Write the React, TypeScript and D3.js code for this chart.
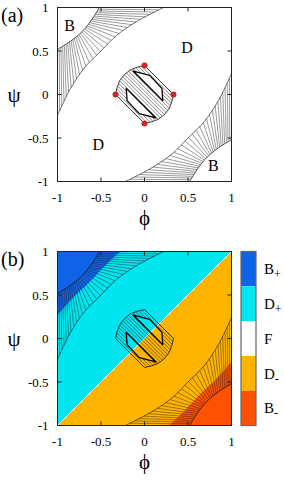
import * as d3 from "d3";
import { useEffect, useRef } from "react";

const W = 284;
const H = 486;
const FONT = "'Liberation Serif', 'Times New Roman', serif";

// axes
const axisTicks = [-1, -0.5, 0, 0.5, 1];
const axisTickLabels = ["-1", "-0.5", "0", "0.5", "1"];

// coexistence bands in the corners, (phi, psi)
const innerArcTL = [[-1, 0.52], [-0.9, 0.58], [-0.8, 0.65], [-0.72, 0.72], [-0.65, 0.8], [-0.58, 0.9], [-0.52, 1]];
const outerArcTL = [[-1, -0.24], [-0.85, 0.07], [-0.68, 0.32], [-0.5, 0.5], [-0.32, 0.68], [-0.07, 0.85], [0.22, 1]];
const innerArcBR = [[1, -0.52], [0.9, -0.58], [0.8, -0.65], [0.72, -0.72], [0.65, -0.8], [0.58, -0.9], [0.52, -1]];
const outerArcBR = [[1, 0.24], [0.85, -0.07], [0.68, -0.32], [0.5, -0.5], [0.32, -0.68], [0.07, -0.85], [-0.22, -1]];

// B+/B- colour edges of panel (b)
const bPlusEdge = [[-1, 0.27], [-0.83, 0.46], [-0.64, 0.64], [-0.46, 0.83], [-0.28, 1]];
const bMinusEdge = [[0.28, -1], [0.46, -0.83], [0.64, -0.64], [0.83, -0.46], [1, -0.27]];

// central region
const coreOutline = [
	[-0.333, 0], [-0.315, 0.08], [-0.285, 0.16], [-0.23, 0.23], [-0.16, 0.285], [-0.08, 0.315], [0, 0.333],
	[0.333, 0], [0.315, -0.08], [0.285, -0.16], [0.23, -0.23], [0.16, -0.285], [0.08, -0.315], [0, -0.333]
];
const eyeUpper = [[-0.13, 0.27], [0.06, 0.22], [0.2, 0.07], [0.21, -0.07]];
const eyeLower = [[0.13, -0.27], [-0.06, -0.22], [-0.2, -0.07], [-0.21, 0.07]];
const criticalPoints = [[0, 0.333], [0.333, 0], [0, -0.333], [-0.333, 0]];

// region labels of panel (a)
const regionNames = ["B", "D", "D", "B"];
const regionPhi = [-0.86, 0.49, -0.53, 0.79];
const regionPsi = [0.8, 0.54, -0.57, -0.82];

// colour key of panel (b)
const phaseNames = ["B", "D", "F", "D", "B"];
const phaseSubs = ["+", "+", "", "-", "-"];
const phaseColors = ["#0f63e6", "#00e6f0", "#ffffff", "#ffb400", "#ff5200"];

function drawPanel(svg, name, top, colored) {
	const left = 57.5;
	const size = 174;
	const x = d3.scaleLinear().domain([-1, 1]).range([left, left + size]);
	const y = d3.scaleLinear().domain([-1, 1]).range([top + size, top]);

	const line = d3.line().x((d) => x(d[0])).y((d) => y(d[1]));
	const curve = d3
		.line()
		.x((d) => x(d[0]))
		.y((d) => y(d[1]))
		.curve(d3.curveCatmullRom.alpha(0.5));

	const g = svg.append("g");
	const defs = g.append("defs");
	defs.append("clipPath")
		.attr("id", "box-" + name)
		.append("rect")
		.attr("x", left)
		.attr("y", top)
		.attr("width", size)
		.attr("height", size);

	const mask = defs
		.append("mask")
		.attr("id", "core-" + name)
		.attr("maskUnits", "userSpaceOnUse")
		.attr("x", 0)
		.attr("y", 0)
		.attr("width", W)
		.attr("height", H);
	mask.append("path").attr("d", line(coreOutline) + "Z").attr("fill", "#fff");
	[eyeUpper, eyeLower].forEach((e) => {
		mask.append("path").attr("d", line(e) + "Z").attr("fill", "#000");
	});

	const plot = g.append("g").attr("clip-path", "url(#box-" + name + ")");

	if (colored) {
		plot.append("path").attr("d", line([[-1, -1], [-1, 1], [1, 1]]) + "Z").attr("fill", phaseColors[1]);
		plot.append("path").attr("d", line([[-1, -1], [1, -1], [1, 1]]) + "Z").attr("fill", phaseColors[3]);
		plot.append("path")
			.attr("d", curve(bPlusEdge) + "L" + x(-1) + "," + y(1) + "Z")
			.attr("fill", phaseColors[0]);
		plot.append("path")
			.attr("d", curve(bMinusEdge) + "L" + x(1) + "," + y(-1) + "Z")
			.attr("fill", phaseColors[4]);
		plot.append("path")
			.attr("d", line([[-1, -1], [1, 1]]))
			.attr("stroke", "#fff")
			.attr("stroke-width", 1);
	}

	// corner bands with tie lines
	[[innerArcTL, outerArcTL], [innerArcBR, outerArcBR]].forEach(([inn, out]) => {
		const pi = plot.append("path").attr("d", curve(inn)).attr("fill", "none").attr("stroke", "#111").attr("stroke-width", 0.7);
		const po = plot.append("path").attr("d", curve(out)).attr("fill", "none").attr("stroke", "#111").attr("stroke-width", 0.6);
		const ni = pi.node();
		const no = po.node();
		const li = ni.getTotalLength();
		const lo = no.getTotalLength();
		const n = 30;
		for (let i = 1; i < n; i += 1) {
			const a = ni.getPointAtLength((li * i) / n);
			const b = no.getPointAtLength((lo * i) / n);
			plot.append("line")
				.attr("x1", a.x)
				.attr("y1", a.y)
				.attr("x2", b.x)
				.attr("y2", b.y)
				.attr("stroke", "#222")
				.attr("stroke-width", 0.45);
		}
	});

	// central region: tie lines along the anti-diagonal
	const hatch = plot.append("g").attr("mask", "url(#core-" + name + ")");
	d3.range(-0.38, 0.39, 0.042).forEach((c) => {
		hatch.append("path")
			.attr("d", line([[c / 2 - 0.5, c / 2 + 0.5], [c / 2 + 0.5, c / 2 - 0.5]]))
			.attr("stroke", "#111")
			.attr("stroke-width", 0.5);
	});
	plot.append("path")
		.attr("d", line(coreOutline) + "Z")
		.attr("fill", "none")
		.attr("stroke", "#111")
		.attr("stroke-width", 0.8);
	[eyeUpper, eyeLower].forEach((e) => {
		plot.append("path")
			.attr("d", line(e) + "Z")
			.attr("fill", "none")
			.attr("stroke", "#000")
			.attr("stroke-width", 1.3)
			.attr("stroke-linejoin", "round");
	});

	if (!colored) {
		plot.selectAll("circle.cp")
			.data(criticalPoints)
			.enter()
			.append("circle")
			.attr("cx", (d) => x(d[0]))
			.attr("cy", (d) => y(d[1]))
			.attr("r", 3)
			.attr("fill", "#c8282a");

		regionNames.forEach((r, i) => {
			g.append("text")
				.attr("x", x(regionPhi[i]))
				.attr("y", y(regionPsi[i]))
				.attr("dy", "0.35em")
				.attr("text-anchor", "middle")
				.attr("font-family", FONT)
				.attr("font-size", 16)
				.text(r);
		});
	}

	// frame and mirrored ticks
	g.append("rect")
		.attr("x", left)
		.attr("y", top)
		.attr("width", size)
		.attr("height", size)
		.attr("fill", "none")
		.attr("stroke", "#222")
		.attr("stroke-width", 1);
	axisTicks.forEach((t) => {
		const tl = 4;
		g.append("line").attr("x1", x(t)).attr("x2", x(t)).attr("y1", top + size).attr("y2", top + size - tl).attr("stroke", "#222");
		g.append("line").attr("x1", x(t)).attr("x2", x(t)).attr("y1", top).attr("y2", top + tl).attr("stroke", "#222");
		g.append("line").attr("x1", left).attr("x2", left + tl).attr("y1", y(t)).attr("y2", y(t)).attr("stroke", "#222");
		g.append("line").attr("x1", left + size).attr("x2", left + size - tl).attr("y1", y(t)).attr("y2", y(t)).attr("stroke", "#222");
	});
	axisTicks.forEach((t, i) => {
		g.append("text")
			.attr("x", x(t))
			.attr("y", top + size + 20)
			.attr("text-anchor", "middle")
			.attr("font-family", FONT)
			.attr("font-size", 13)
			.text(axisTickLabels[i]);
		g.append("text")
			.attr("x", left - 9)
			.attr("y", y(t))
			.attr("dy", "0.35em")
			.attr("text-anchor", "end")
			.attr("font-family", FONT)
			.attr("font-size", 13)
			.text(axisTickLabels[i]);
	});

	g.append("text")
		.attr("x", x(0))
		.attr("y", top + size + 43)
		.attr("text-anchor", "middle")
		.attr("font-family", FONT)
		.attr("font-size", 21)
		.text("\u03d5");
	g.append("text")
		.attr("x", 14)
		.attr("y", y(0))
		.attr("dy", "0.35em")
		.attr("text-anchor", "middle")
		.attr("font-family", FONT)
		.attr("font-size", 21)
		.text("\u03c8");
	g.append("text")
		.attr("x", 1)
		.attr("y", top + 14)
		.attr("font-family", FONT)
		.attr("font-size", 20)
		.text("(" + name + ")");

	if (colored) {
		const kx = 241;
		const kw = 15;
		const seg = size / phaseNames.length;
		phaseNames.forEach((p, i) => {
			g.append("rect")
				.attr("x", kx)
				.attr("y", top + i * seg)
				.attr("width", kw)
				.attr("height", seg)
				.attr("fill", phaseColors[i]);
			const t = g.append("text")
				.attr("x", kx + kw + 8)
				.attr("y", top + (i + 0.5) * seg)
				.attr("dy", "0.35em")
				.attr("font-family", FONT)
				.attr("font-size", 15)
				.text(p);
			if (phaseSubs[i]) {
				t.append("tspan").attr("dy", 4).attr("font-size", 12).text(phaseSubs[i]);
			}
		});
		g.append("rect")
			.attr("x", kx)
			.attr("y", top)
			.attr("width", kw)
			.attr("height", size)
			.attr("fill", "none")
			.attr("stroke", "#666")
			.attr("stroke-width", 1.2);
	}
}

export default function App() {
	const ref = useRef(null);

	useEffect(() => {
		document.body.style.margin = "0";
		const svg = d3.select(ref.current);
		svg.selectAll("*").remove();
		drawPanel(svg, "a", 7.5, false);
		drawPanel(svg, "b", 251.5, true);
	}, []);

	return <svg ref={ref} width={W} height={H} style={{ display: "block", background: "#fff" }} />;
}
